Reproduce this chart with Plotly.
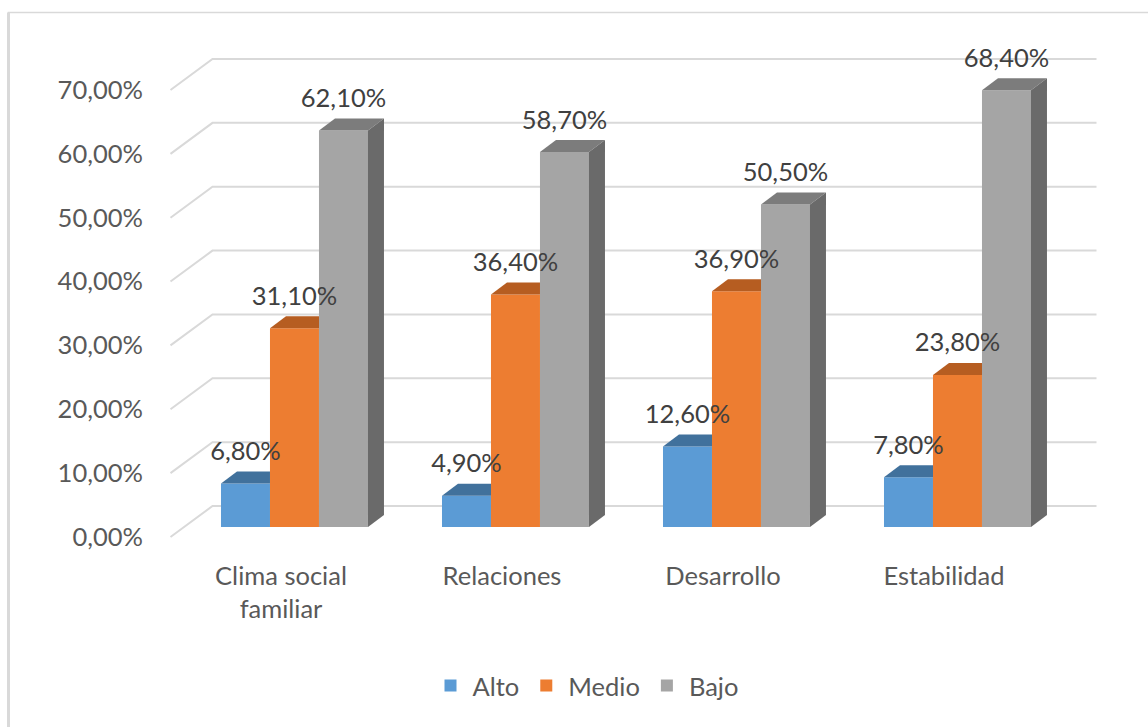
import plotly.graph_objects as go

categories = ["Clima social<br>familiar", "Relaciones", "Desarrollo", "Estabilidad"]
series_names = ["Alto", "Medio", "Bajo"]
alto = [6.8, 4.9, 12.6, 7.8]
medio = [31.1, 36.4, 36.9, 23.8]
bajo = [62.1, 58.7, 50.5, 68.4]
y_ticks = [0, 10, 20, 30, 40, 50, 60, 70]
y_tick_labels = [f"{t:.2f}%".replace(".", ",") for t in y_ticks]

front_colors = ["#5B9BD5", "#ED7D31", "#A5A5A5"]
top_colors = ["#41719C", "#B65D21", "#7C7C7C"]
side_colors = ["#3F6F9A", "#AE5A21", "#6A6A6A"]

values = [alto, medio, bajo]

FONT = "Lato"
FS = 25.5

# pseudo-3D geometry (axis units)
bdx, bdy = 0.190, 4.85      # back wall offset
fdx, fdy = 0.061, 1.57      # bar front plane offset from front floor edge
ddx, ddy = 0.0724, 1.88     # bar depth
w = 0.2217                  # bar width
lab_gap = 2.8

fig = go.Figure()

# gridlines as shapes below traces
for t in y_ticks:
    fig.add_shape(type="path",
                  path=f"M {-0.5},{t} L {-0.5 + bdx},{t + bdy} L {3.5 + bdx},{t + bdy}",
                  xref="x", yref="y", layer="below",
                  line=dict(color="#D9D9D9", width=2))

n = len(categories)
for k, (name, vals) in enumerate(zip(series_names, values)):
    xs = [i + fdx + (k - 1) * w for i in range(n)]
    fig.add_trace(go.Bar(
        x=xs, y=vals, base=[fdy] * n, width=w, name=name,
        marker=dict(color=front_colors[k], line=dict(width=0)),
        hoverinfo="skip"))

# top and side faces
for k, vals in enumerate(values):
    for i, v in enumerate(vals):
        xl = i + fdx + (k - 1) * w - w / 2
        xr = xl + w
        top = fdy + v
        if k == len(values) - 1:
            fig.add_trace(go.Scatter(
                x=[xl, xr, xr + ddx, xl + ddx, xl],
                y=[top, top, top + ddy, top + ddy, top],
                fill="toself", fillcolor=top_colors[k], mode="lines",
                line=dict(width=0), showlegend=False, hoverinfo="skip"))
            fig.add_trace(go.Scatter(
                x=[xr, xr + ddx, xr + ddx, xr, xr],
                y=[fdy, fdy + ddy, top + ddy, top, fdy],
                fill="toself", fillcolor=side_colors[k], mode="lines",
                line=dict(width=0), showlegend=False, hoverinfo="skip"))
        else:
            fig.add_trace(go.Scatter(
                x=[xl, xr, xr, xl + ddx, xl],
                y=[top, top, top + ddy, top + ddy, top],
                fill="toself", fillcolor=top_colors[k], mode="lines",
                line=dict(width=0), showlegend=False, hoverinfo="skip"))

# data labels
for k, vals in enumerate(values):
    xs = [i + fdx + (k - 1) * w for i in range(n)]
    ys = [fdy + v + ddy + lab_gap for v in vals]
    txt = [f"{v:.2f}%".replace(".", ",") for v in vals]
    fig.add_trace(go.Scatter(
        x=xs, y=ys, text=txt, mode="text", textposition="middle center",
        textfont=dict(family=FONT, size=FS, color="#404040"),
        showlegend=False, hoverinfo="skip", cliponaxis=False))

# outer frame
fig.add_shape(type="rect", xref="paper", yref="paper",
              x0=(8.5 - 150) / 960, x1=1.3, y0=-0.6, y1=(550 - 12.5) / 520,
              line=dict(color="#D9D9D9", width=1.5), layer="below")
fig.add_shape(type="line", xref="paper", yref="paper",
              x0=(8.5 - 150) / 960, x1=(8.5 - 150) / 960, y0=-0.6, y1=(550 - 12.5) / 520,
              line=dict(color="#D9D9D9", width=3), layer="below")

fig.update_layout(
    width=1148, height=727,
    margin=dict(l=150, r=38, t=30, b=177),
    paper_bgcolor="white", plot_bgcolor="white",
    barmode="overlay",
    font=dict(family=FONT, size=FS, color="#595959"),
    showlegend=True,
    legend=dict(orientation="h", xref="container", yref="container",
                x=586 / 1148, y=1 - 686 / 727, xanchor="center", yanchor="middle",
                font=dict(size=FS, color="#595959"), traceorder="normal",
                itemwidth=34),
)
fig.update_xaxes(
    range=[(150 - 281) / 221, (1110 - 281) / 221],
    tickmode="array", tickvals=list(range(n)), ticktext=categories,
    showgrid=False, zeroline=False, showline=False, ticks="",
    ticklabelstandoff=8,
)
fig.update_yaxes(
    range=[-13 / 6.386, 507 / 6.386],
    tickmode="array", tickvals=y_ticks, ticktext=y_tick_labels,
    showgrid=False, zeroline=False, showline=False, ticks="",
    ticklabelstandoff=6,
)

fig.write_html("out.html", config={"displayModeBar": False},
               post_script="document.body.style.margin='0';")
